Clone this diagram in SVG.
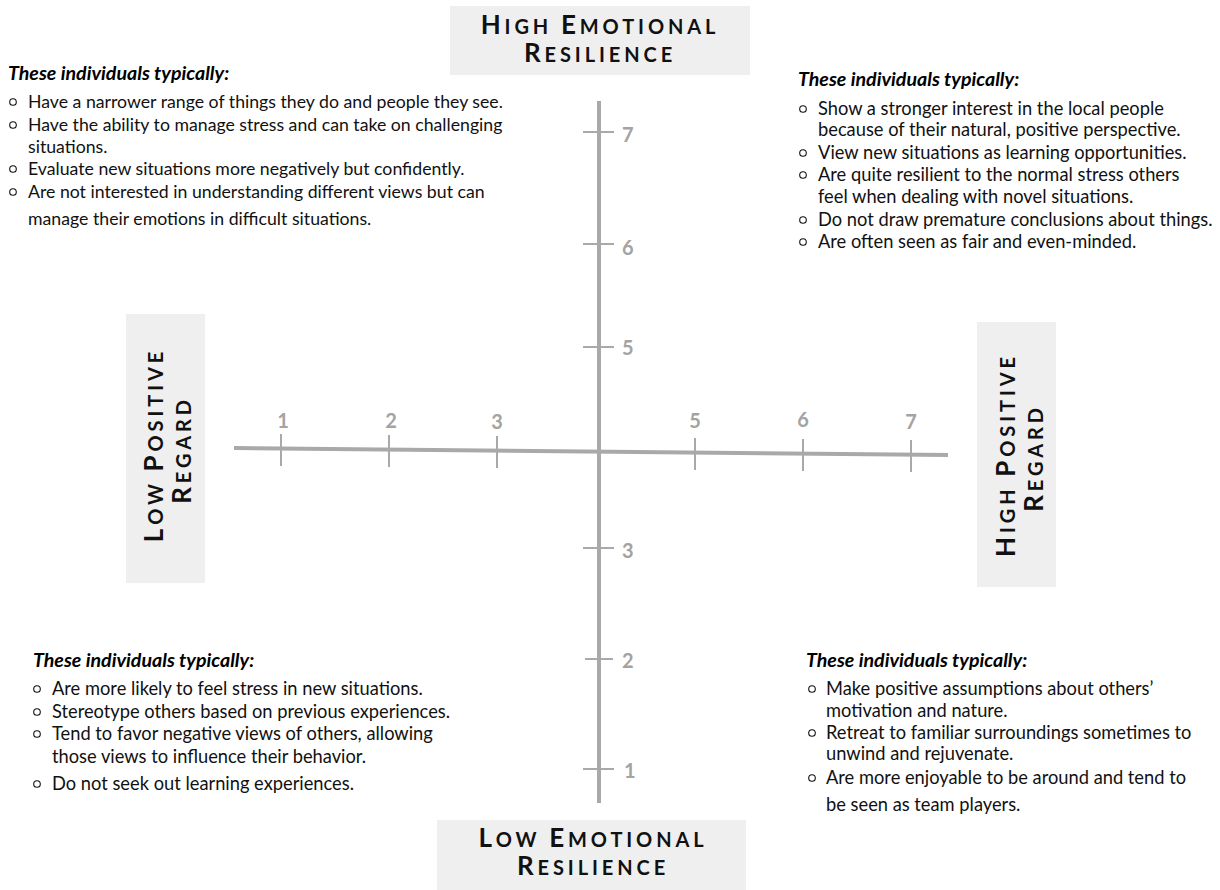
<svg xmlns="http://www.w3.org/2000/svg" width="1220" height="890" viewBox="0 0 1220 890">
<style>
.box{fill:#efefef}
.ax{font-family:Lato,"Liberation Sans",sans-serif;font-weight:bold;font-size:20px;letter-spacing:3.9px;fill:#111}
.ax .b{font-size:26px}
.axis{stroke:#a9a9a9;stroke-width:4;fill:none;stroke-linecap:butt}
.tick{stroke:#a9a9a9;stroke-width:2}
.tl{font-family:Lato,"Liberation Sans",sans-serif;font-weight:bold;font-size:20px;fill:#a3a3a3;text-anchor:middle}
.tlv{font-family:Lato,"Liberation Sans",sans-serif;font-weight:bold;font-size:20px;fill:#a3a3a3}
.hd{font-family:Lato,"Liberation Sans",sans-serif;font-weight:bold;font-style:italic;font-size:19.6px;fill:#000}
.bt{font-family:Lato,"Liberation Sans",sans-serif;font-size:18.3px;fill:#111}
.bt2{font-family:Lato,"Liberation Sans",sans-serif;font-size:17.7px;fill:#111}
.bul{fill:none;stroke:#111;stroke-width:1.1}
</style>

<g id="connectors">
  <line class="axis" x1="234" y1="448" x2="948" y2="455"/>
  <line class="axis" x1="599" y1="101" x2="599" y2="803"/>
  <g id="h-ticks">
    <line class="tick" x1="281" y1="434" x2="281" y2="466"/>
    <line class="tick" x1="389" y1="435" x2="389" y2="467"/>
    <line class="tick" x1="497" y1="436" x2="497" y2="468"/>
    <line class="tick" x1="695" y1="438" x2="695" y2="470"/>
    <line class="tick" x1="803" y1="439" x2="803" y2="471"/>
    <line class="tick" x1="911" y1="440" x2="911" y2="472"/>
  </g>
  <g id="v-ticks">
    <line class="tick" x1="583" y1="132" x2="614" y2="132"/>
    <line class="tick" x1="583" y1="244" x2="614" y2="244"/>
    <line class="tick" x1="583" y1="347" x2="614" y2="347"/>
    <line class="tick" x1="583" y1="548" x2="614" y2="548"/>
    <line class="tick" x1="585" y1="659" x2="613" y2="659"/>
    <line class="tick" x1="583" y1="769" x2="614" y2="769"/>
  </g>
</g>

<g id="tick-labels">
  <text class="tl" x="283" y="428">1</text>
  <text class="tl" x="391" y="428">2</text>
  <text class="tl" x="497" y="429">3</text>
  <text class="tl" x="695" y="428">5</text>
  <text class="tl" x="803" y="427">6</text>
  <text class="tl" x="911" y="429">7</text>
  <text class="tlv" x="622" y="142">7</text>
  <text class="tlv" x="622" y="255">6</text>
  <text class="tlv" x="622" y="355">5</text>
  <text class="tlv" x="622" y="558">3</text>
  <text class="tlv" x="622" y="668">2</text>
  <text class="tlv" x="624" y="778">1</text>
</g>

<g id="high-emotional-resilience">
  <rect class="box" x="450" y="6" width="300" height="69"/>
  <text class="ax" text-anchor="middle"><tspan x="600" y="34"><tspan class="b">H</tspan>IGH <tspan class="b">E</tspan>MOTIONAL</tspan><tspan x="600" y="61.5"><tspan class="b">R</tspan>ESILIENCE</tspan></text>
</g>

<g id="low-emotional-resilience">
  <rect class="box" x="437" y="820" width="309" height="70"/>
  <text class="ax" text-anchor="middle"><tspan x="593" y="847"><tspan class="b">L</tspan>OW <tspan class="b">E</tspan>MOTIONAL</tspan><tspan x="593" y="874.5"><tspan class="b">R</tspan>ESILIENCE</tspan></text>
</g>

<g id="low-positive-regard">
  <rect class="box" x="126" y="314" width="79" height="269"/>
  <text class="ax" text-anchor="middle" transform="translate(163,445) rotate(-90)"><tspan x="0" y="0"><tspan class="b">L</tspan>OW <tspan class="b">P</tspan>OSITIVE</tspan><tspan x="-5" y="27.5"><tspan class="b">R</tspan>EGARD</tspan></text>
</g>

<g id="high-positive-regard">
  <rect class="box" x="977" y="322" width="79" height="265"/>
  <text class="ax" text-anchor="middle" transform="translate(1015,455) rotate(-90)"><tspan x="0" y="0"><tspan class="b">H</tspan>IGH <tspan class="b">P</tspan>OSITIVE</tspan><tspan x="-3" y="27.5"><tspan class="b">R</tspan>EGARD</tspan></text>
</g>

<g id="quadrant-top-left">
  <text class="hd" x="8" y="80">These individuals typically:</text>
  <circle class="bul" cx="13" cy="102" r="3.3"/>
  <text class="bt2" x="28" y="108">Have a narrower range of things they do and people they see.</text>
  <circle class="bul" cx="13" cy="125" r="3.3"/>
  <text class="bt2" x="28" y="131">Have the ability to manage stress and can take on challenging</text>
  <text class="bt2" x="28" y="153">situations.</text>
  <circle class="bul" cx="13" cy="169" r="3.3"/>
  <text class="bt2" x="28" y="175">Evaluate new situations more negatively but confidently.</text>
  <circle class="bul" cx="13" cy="192" r="3.3"/>
  <text class="bt2" x="28" y="198">Are not interested in understanding different views but can</text>
  <text class="bt2" x="28" y="225">manage their emotions in difficult situations.</text>
</g>

<g id="quadrant-top-right">
  <text class="hd" x="798" y="86">These individuals typically:</text>
  <circle class="bul" cx="803" cy="109" r="3.3"/>
  <text class="bt" x="818" y="115">Show a stronger interest in the local people</text>
  <text class="bt" x="818" y="136">because of their natural, positive perspective.</text>
  <circle class="bul" cx="803" cy="153" r="3.3"/>
  <text class="bt" x="818" y="159">View new situations as learning opportunities.</text>
  <circle class="bul" cx="803" cy="175" r="3.3"/>
  <text class="bt" x="818" y="181">Are quite resilient to the normal stress others</text>
  <text class="bt" x="818" y="203">feel when dealing with novel situations.</text>
  <circle class="bul" cx="803" cy="220" r="3.3"/>
  <text class="bt" x="818" y="226">Do not draw premature conclusions about things.</text>
  <circle class="bul" cx="803" cy="242" r="3.3"/>
  <text class="bt" x="818" y="248">Are often seen as fair and even-minded.</text>
</g>

<g id="quadrant-bottom-left">
  <text class="hd" x="33" y="667">These individuals typically:</text>
  <circle class="bul" cx="37" cy="689" r="3.3"/>
  <text class="bt" x="52" y="695">Are more likely to feel stress in new situations.</text>
  <circle class="bul" cx="37" cy="712" r="3.3"/>
  <text class="bt" x="52" y="718">Stereotype others based on previous experiences.</text>
  <circle class="bul" cx="37" cy="734" r="3.3"/>
  <text class="bt" x="52" y="740">Tend to favor negative views of others, allowing</text>
  <text class="bt" x="52" y="763">those views to influence their behavior.</text>
  <circle class="bul" cx="37" cy="784" r="3.3"/>
  <text class="bt" x="52" y="790">Do not seek out learning experiences.</text>
</g>

<g id="quadrant-bottom-right">
  <text class="hd" x="806" y="667">These individuals typically:</text>
  <circle class="bul" cx="812" cy="689" r="3.3"/>
  <text class="bt" x="826" y="695">Make positive assumptions about others’</text>
  <text class="bt" x="826" y="717">motivation and nature.</text>
  <circle class="bul" cx="812" cy="733" r="3.3"/>
  <text class="bt" x="826" y="739">Retreat to familiar surroundings sometimes to</text>
  <text class="bt" x="826" y="760">unwind and rejuvenate.</text>
  <circle class="bul" cx="812" cy="778" r="3.3"/>
  <text class="bt" x="826" y="784">Are more enjoyable to be around and tend to</text>
  <text class="bt" x="826" y="811">be seen as team players.</text>
</g>
</svg>
